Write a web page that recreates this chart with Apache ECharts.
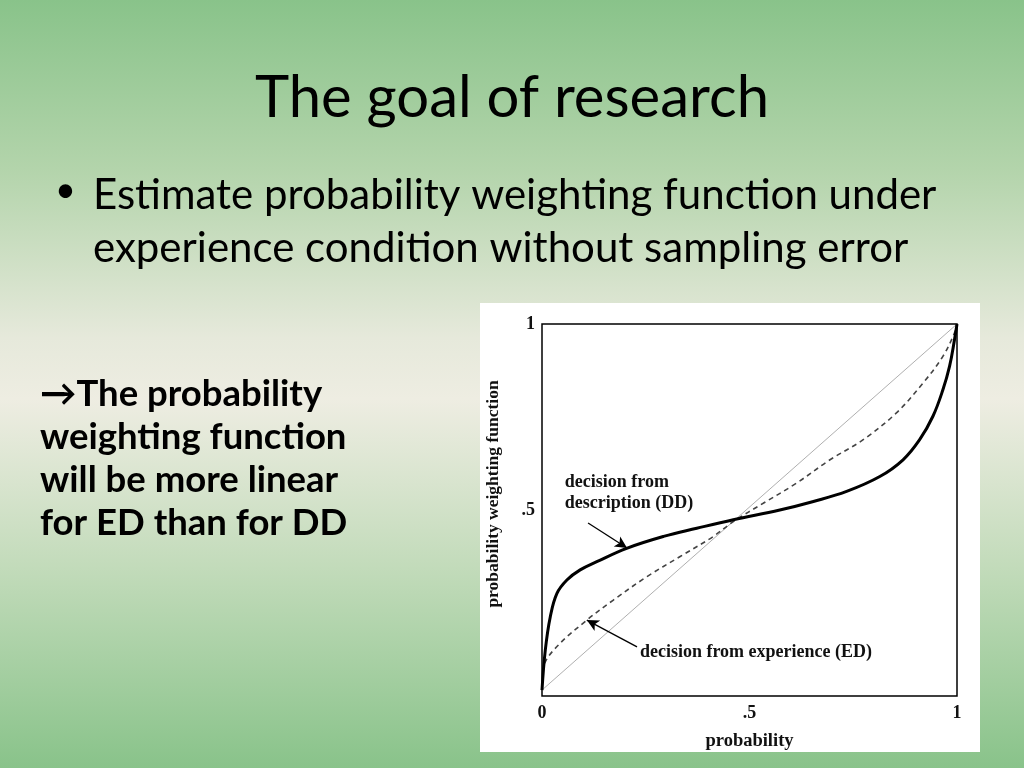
<!DOCTYPE html>
<html>
<head>
<meta charset="utf-8">
<script src="https://cdn.jsdelivr.net/npm/echarts@6/dist/echarts.min.js"></script>
<style>
html,body{margin:0;padding:0;width:1024px;height:768px;overflow:hidden;}
#c{width:1024px;height:768px;}
</style>
</head>
<body>
<div id="c"></div>
<script>
// ---- data ----
var ddX = [0, 0.008, 0.02, 0.036, 0.06, 0.092, 0.132, 0.204, 0.293, 0.373, 0.461, 0.573, 0.654, 0.734, 0.814, 0.870, 0.910, 0.942, 0.966, 0.982, 0.994, 1.0];
var ddY = [0.016, 0.124, 0.213, 0.276, 0.312, 0.339, 0.361, 0.397, 0.429, 0.451, 0.474, 0.500, 0.523, 0.550, 0.590, 0.635, 0.689, 0.752, 0.823, 0.886, 0.958, 1.0];
var edX = [0, 0.004, 0.036, 0.108, 0.172, 0.253, 0.333, 0.413, 0.461, 0.533, 0.613, 0.694, 0.774, 0.854, 0.918, 0.966, 0.994, 1.0];
var edY = [0.016, 0.079, 0.133, 0.204, 0.258, 0.321, 0.375, 0.429, 0.469, 0.518, 0.572, 0.635, 0.689, 0.761, 0.841, 0.913, 0.976, 1.0];
var diagX = [0, 1];
var diagY = [0.016, 1];
var xTicks = ['0', '.5', '1'];
var yTicks = ['', '.5', '1'];
var ddLabel = 'decision from\ndescription (DD)';
var edLabel = 'decision from experience (ED)';
var ddLabelAt = [0.055, 0.546];
var edLabelAt = [0.236, 0.118];
var ddArrow = [[0.111, 0.465], [0.205, 0.398]];
var edArrow = [[0.229, 0.132], [0.108, 0.204]];

function zip(a, b) { return a.map(function (v, i) { return [v, b[i]]; }); }

var serif = '"Liberation Serif", "DejaVu Serif", serif';
var sans = 'Lato, "Open Sans", sans-serif';

var chart = echarts.init(document.getElementById('c'));
chart.setOption({
  animation: false,
  backgroundColor: {
    type: 'linear', x: 0, y: 0, x2: 0, y2: 1,
    colorStops: [
      {offset: 0, color: '#89c38a'},
      {offset: 0.22, color: '#b3d4ab'},
      {offset: 0.44, color: '#e6e9db'},
      {offset: 0.52, color: '#eeede2'},
      {offset: 0.74, color: '#c2dbba'},
      {offset: 1, color: '#89c38a'}
    ]
  },
  graphic: [
    {type: 'rect', left: 480, top: 303, shape: {width: 500, height: 449}, style: {fill: '#ffffff'}, z: -10},
    {type: 'text', left: 'center', top: 69, style: {text: 'The goal of research', font: '58px ' + sans, fill: '#000'}},
    {type: 'text', left: 55, top: 172, style: {text: '\u2022', font: '36px ' + sans, fill: '#000'}},
    {type: 'text', left: 93, top: 169, style: {text: 'Estimate probability weighting function under\nexperience condition without sampling error', font: '42px ' + sans, lineHeight: 53, fill: '#000'}},
    {type: 'text', left: 40, top: 373, style: {text: '\u2192The probability\nweighting function\nwill be more linear\nfor ED than for DD', font: 'bold 36.5px ' + sans, lineHeight: 43, fill: '#000'}}
  ],
  grid: {left: 542, top: 324, width: 415, height: 372, show: true, borderColor: '#000', borderWidth: 1.5, backgroundColor: 'transparent'},
  xAxis: {
    type: 'value', min: 0, max: 1, interval: 0.5,
    name: 'probability', nameLocation: 'middle', nameGap: 36,
    nameTextStyle: {fontFamily: serif, fontWeight: 'bold', fontSize: 18.5, color: '#111'},
    axisLine: {show: false}, axisTick: {show: false}, splitLine: {show: false},
    axisLabel: {margin: 8, fontFamily: serif, fontWeight: 'bold', fontSize: 18, color: '#111',
      formatter: function (v) { return xTicks[Math.round(v * 2)]; }}
  },
  yAxis: {
    type: 'value', min: 0, max: 1, interval: 0.5,
    name: 'probability weighting function', nameLocation: 'middle', nameGap: 40,
    nameTextStyle: {fontFamily: serif, fontWeight: 'bold', fontSize: 17.5, color: '#111', padding: [0, 0, 0, 32]},
    axisLine: {show: false}, axisTick: {show: false}, splitLine: {show: false},
    axisLabel: {margin: 7, fontFamily: serif, fontWeight: 'bold', fontSize: 18, color: '#111', verticalAlign: 'middle',
      formatter: function (v) { return yTicks[Math.round(v * 2)]; }}
  },
  series: [
    {type: 'line', data: zip(diagX, diagY), symbol: 'none', lineStyle: {color: '#9a9a9a', width: 0.8}, z: 1},
    {type: 'line', data: zip(edX, edY), symbol: 'none', smooth: 0.35, lineStyle: {color: '#444', width: 1.6, type: [5, 4]}, z: 2},
    {type: 'line', data: zip(ddX, ddY), symbol: 'none', smooth: 0.4, lineStyle: {color: '#000', width: 3}, z: 3,
      markLine: {
        silent: true, symbol: ['none', 'arrow'], symbolSize: [9, 12],
        lineStyle: {color: '#000', width: 1.3, type: 'solid'}, label: {show: false},
        data: [
          [{coord: ddArrow[0]}, {coord: ddArrow[1]}],
          [{coord: edArrow[0]}, {coord: edArrow[1]}]
        ]
      },
      markPoint: {
        silent: true, symbol: 'circle', symbolSize: 0,
        label: {show: true, position: 'right', distance: 0, fontFamily: serif, fontWeight: 'bold', fontSize: 18, color: '#111', lineHeight: 21, align: 'left'},
        data: [
          {coord: ddLabelAt, label: {formatter: ddLabel}},
          {coord: edLabelAt, label: {formatter: edLabel}}
        ]
      }
    }
  ]
});
</script>
</body>
</html>
